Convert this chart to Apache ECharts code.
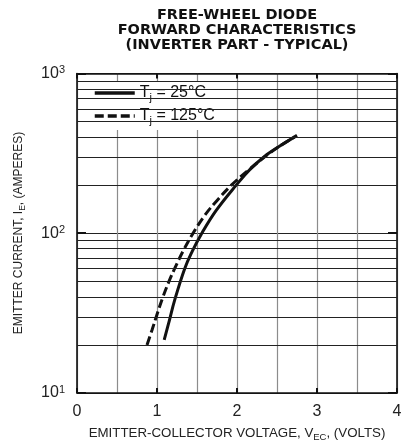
<!DOCTYPE html>
<html><head><meta charset="utf-8">
<script src="https://cdn.jsdelivr.net/npm/echarts@6/dist/echarts.min.js"></script>
<style>html,body{margin:0;padding:0;background:#fff}#c{width:406px;height:447px}</style>
</head><body><div id="c"></div>
<script>
// ---- data ----
const titleLines = ['FREE-WHEEL DIODE', 'FORWARD CHARACTERISTICS', '(INVERTER PART - TYPICAL)'];
const xTickValues = [0, 1, 2, 3, 4];
const yTickValues = [10, 100, 1000];
const minorGridValues = [20, 30, 40, 50, 60, 70, 80, 90, 200, 300, 400, 500, 600, 700, 800, 900];
const seriesTemps = ['25', '125'];
const vec25 = [1.09, 1.155, 1.22, 1.346, 1.44, 1.55, 1.74, 1.99, 2.16, 2.37, 2.53, 2.75];
const ie25  = [21.5, 28.5, 38, 60, 77, 98, 139, 200, 250, 310, 350, 410];
const vec125 = [0.875, 0.94, 1.00, 1.075, 1.15, 1.22, 1.33, 1.44, 1.60, 1.74, 1.93, 2.14, 2.37, 2.53, 2.72];
const ie125  = [20, 25, 31, 40, 50, 60, 78, 98, 130, 158, 200, 248, 307, 350, 400];
const xAxisTitle = ['EMITTER-COLLECTOR VOLTAGE, V', 'EC', ', (VOLTS)'];
const yAxisTitle = ['EMITTER CURRENT, I', 'E', ', (AMPERES)'];

const pair = (xs, ys) => xs.map((x, i) => [x, ys[i]]);
const seriesName = t => 'Tj = ' + t + '°C';

const chart = echarts.init(document.getElementById('c'), null, {renderer: 'canvas'});
const FONT = 'Liberation Sans, Arial, Helvetica, sans-serif';
const gridBox = {left: 77, right: 9, top: 73.5, bottom: 54};

const xAxisCommon = {
  type: 'value', min: 0, max: 4, interval: 1,
  axisLine: {show: true, onZero: false, lineStyle: {color: '#111', width: 1.6}},
  axisTick: {show: true, inside: true, length: 5, lineStyle: {color: '#111', width: 2}},
  minorTick: {show: false, splitNumber: 2}
};
const yAxisCommon = {
  type: 'log', logBase: 10, min: 10, max: 1000,
  axisLine: {show: true, onZero: false, lineStyle: {color: '#111', width: 1.6}},
  axisTick: {show: true, inside: true, length: 9, lineStyle: {color: '#111', width: 2}}
};

const option = {
  animation: false,
  backgroundColor: '#fff',
  color: ['#111', '#111'],
  grid: gridBox,
  xAxis: [
    Object.assign({}, xAxisCommon, {
      position: 'bottom',
      axisLabel: {show: true, margin: 11, fontSize: 16, fontFamily: FONT, color: '#222',
        formatter: v => xTickValues.indexOf(v) >= 0 ? String(v) : ''},
      splitLine: {show: true, lineStyle: {color: '#8c8c8c', width: 1.2}},
      minorSplitLine: {show: true, lineStyle: {color: '#8c8c8c', width: 1.2}}
    }),
    Object.assign({}, xAxisCommon, {
      position: 'top',
      axisLabel: {show: false},
      splitLine: {show: false}
    })
  ],
  yAxis: [
    Object.assign({}, yAxisCommon, {
      position: 'left',
      axisLabel: {show: true, margin: 12, fontFamily: FONT,
        formatter: v => yTickValues.indexOf(v) >= 0 ? '{b|10}{p|' + Math.round(Math.log10(v)) + '}' : '',
        rich: {
          b: {fontSize: 16, fontFamily: FONT, color: '#222', lineHeight: 18},
          p: {fontSize: 11, fontFamily: FONT, color: '#222', lineHeight: 12, verticalAlign: 'top'}
        }},
      splitLine: {show: true, lineStyle: {color: '#222', width: 1}}
    }),
    Object.assign({}, yAxisCommon, {
      position: 'right',
      axisLabel: {show: false},
      splitLine: {show: false}
    })
  ],
  legend: {
    orient: 'vertical', left: 87, top: 82,
    backgroundColor: '#fff', padding: [3, 6, 4, 6],
    itemWidth: 40, itemHeight: 12, itemGap: 5, itemTextGap: 3,
    itemStyle: {color: 'rgba(0,0,0,0)', borderWidth: 0, opacity: 0},
    lineStyle: {color: '#111', width: 3.5},
    data: seriesTemps.map(seriesName),
    formatter: name => {
      const t = name.replace('Tj = ', '').replace('°C', '');
      return '{t|T}{s|j}{t| = ' + t + '°C}';
    },
    textStyle: {
      rich: {
        t: {fontSize: 16, fontFamily: FONT, color: '#111', lineHeight: 20},
        s: {fontSize: 11, fontFamily: FONT, color: '#111', lineHeight: 12, verticalAlign: 'bottom'}
      }
    }
  },
  series: [
    {
      name: seriesName(seriesTemps[0]), type: 'line', smooth: 0.4, symbol: 'none', showSymbol: false,
      data: pair(vec25, ie25),
      itemStyle: {color: '#111'},
      lineStyle: {color: '#111', width: 3, type: 'solid', cap: 'butt'},
      z: 3,
      markLine: {
        silent: true, symbol: ['none', 'none'], animation: false,
        label: {show: false},
        lineStyle: {color: '#222', width: 1, type: 'solid'},
        emphasis: {disabled: true},
        data: minorGridValues.map(v => ({yAxis: v}))
      }
    },
    {
      name: seriesName(seriesTemps[1]), type: 'line', smooth: 0.4, symbol: 'none', showSymbol: false,
      data: pair(vec125, ie125),
      itemStyle: {color: '#111'},
      lineStyle: {color: '#111', width: 3, type: [9, 4], cap: 'butt'},
      z: 3
    }
  ],
  graphic: [
    {
      type: 'text', x: 237, y: 30, z: 10,
      style: {text: titleLines.join('\n'), align: 'center', verticalAlign: 'middle',
        fontFamily: 'DejaVu Sans, sans-serif', fontWeight: 'bold', fontSize: 14.5, lineHeight: 15, fill: '#111'}
    },
    {
      type: 'text', x: 237, y: 433.5, z: 10,
      style: {
        text: '{a|' + xAxisTitle[0] + '}{s|' + xAxisTitle[1] + '}{a|' + xAxisTitle[2] + '}',
        align: 'center', verticalAlign: 'middle',
        rich: {
          a: {fontSize: 13.3, fontFamily: FONT, fill: '#222', lineHeight: 18},
          s: {fontSize: 9.5, fontFamily: FONT, fill: '#222', lineHeight: 11, verticalAlign: 'bottom'}
        }
      }
    },
    {
      type: 'text', x: 19, y: 233, rotation: Math.PI / 2, z: 10,
      style: {
        text: '{a|' + yAxisTitle[0] + '}{s|' + yAxisTitle[1] + '}{a|' + yAxisTitle[2] + '}',
        align: 'center', verticalAlign: 'middle',
        rich: {
          a: {fontSize: 12, fontFamily: FONT, fill: '#222', lineHeight: 16},
          s: {fontSize: 8.5, fontFamily: FONT, fill: '#222', lineHeight: 10, verticalAlign: 'bottom'}
        }
      }
    }
  ]
};
chart.setOption(option);
</script>
</body></html>
